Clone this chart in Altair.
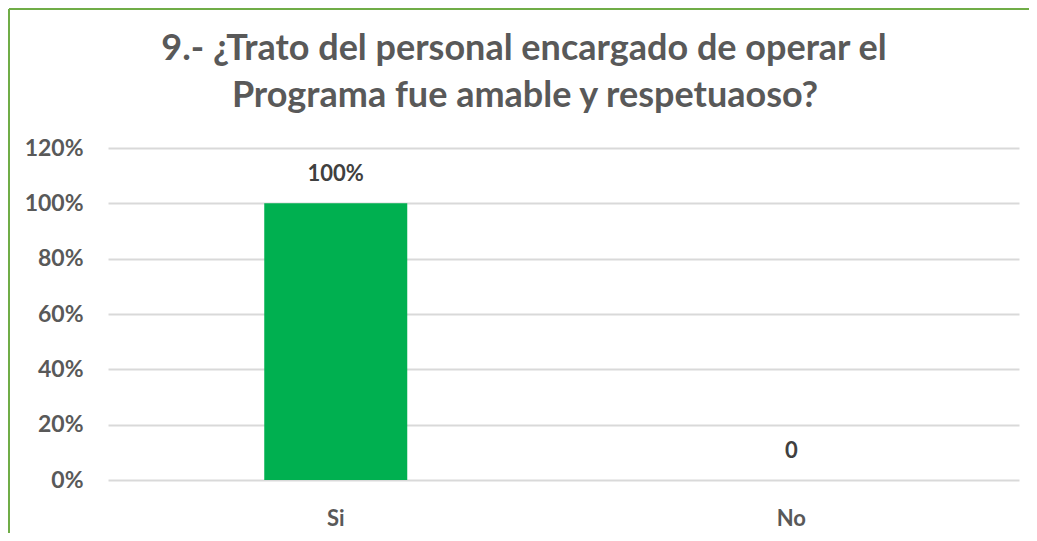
import altair as alt
import pandas as pd

categories = ["Si", "No"]
values = [1.0, 0.0]
value_labels = ["100%", "0"]
y_ticks = [0, 0.2, 0.4, 0.6, 0.8, 1.0, 1.2]
title_lines = ["9.- ¿Trato del personal encargado de operar el", "Programa fue amable y respetuaoso?"]

df = pd.DataFrame({"cat": categories, "val": values, "lab": value_labels})

FONT = "Lato"
GRAY = "#595959"

x_enc = alt.X("cat:N", sort=categories, title=None,
              scale=alt.Scale(paddingInner=0, paddingOuter=0),
              axis=alt.Axis(labelAngle=0, labelFont=FONT, labelFontSize=22, labelFontWeight="bold",
                            labelColor=GRAY, labelPadding=28, domain=False, ticks=False, grid=False))
y_enc = alt.Y("val:Q", title=None, scale=alt.Scale(domain=[0, 1.2], nice=False),
              axis=alt.Axis(values=y_ticks, format=".0%", labelFont=FONT, labelFontSize=23,
                            labelFontWeight="bold", labelColor=GRAY, labelPadding=25,
                            domain=False, ticks=False, grid=True, gridColor="#d9d9d9", gridWidth=2))

base = alt.Chart(df)
bars = base.mark_bar(color="#00B050", size=143).encode(x=x_enc, y=y_enc)
labels = base.mark_text(font=FONT, fontSize=22, fontWeight="bold", color="#404040",
                        baseline="bottom", dy=-17).encode(x=alt.X("cat:N", sort=categories), y="val:Q", text="lab:N")

frame = alt.Chart(pd.DataFrame({"k": [0]}))
left_border = frame.mark_rule(color="#70AD47", strokeWidth=2).encode(
    x=alt.value(-99), y=alt.value(-139), y2=alt.value(385))
top_border = frame.mark_rule(color="#70AD47", strokeWidth=2).encode(
    x=alt.value(-99), x2=alt.value(921), y=alt.value(-139))

title1 = frame.mark_text(font=FONT, fontSize=36, fontWeight="bold", color=GRAY, align="center",
                         baseline="alphabetic").encode(x=alt.value(416), y=alt.value(-88),
                                                       text=alt.value(title_lines[0]))
title2 = frame.mark_text(font=FONT, fontSize=36, fontWeight="bold", color=GRAY, align="center",
                         baseline="alphabetic").encode(x=alt.value(417), y=alt.value(-41),
                                                       text=alt.value(title_lines[1]))

chart = alt.layer(bars, labels, left_border, top_border, title1, title2).properties(
    width=911, height=332,
    padding={"left": 100, "top": 140, "right": 10, "bottom": 53},
    autosize=alt.AutoSizeParams(type="none"),
).configure_view(stroke=None)

chart.save("out.html", embed_options={"renderer": "svg", "actions": False})
